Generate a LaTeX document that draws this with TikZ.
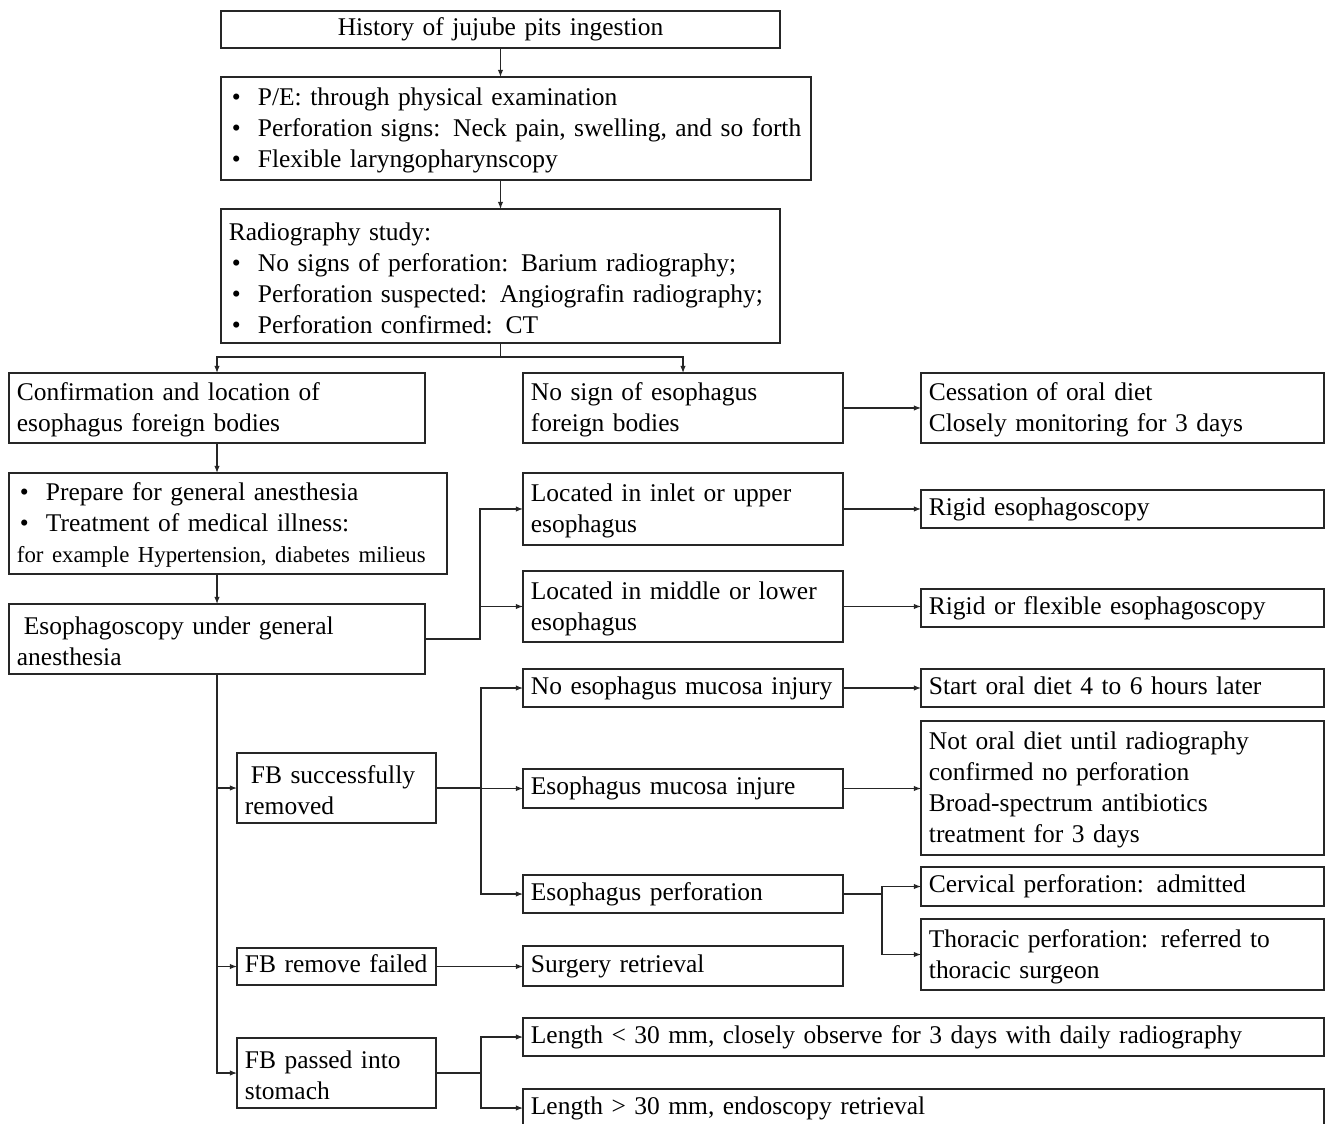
\documentclass[tikz,border=0pt]{standalone}
\usepackage{fontspec}
\setmainfont{Liberation Serif}
\usetikzlibrary{arrows.meta}
\newcommand{\bul}{\hspace{0.06cm}\makebox[0.52cm][l]{\textbullet}}

\begin{document}
\begin{tikzpicture}[x=0.02cm, y=-0.02cm,
    font=\fontsize{14.5pt}{17.6pt}\selectfont,
    box/.style 2 args={draw=black!85, line width=0.6pt, anchor=north west, outer sep=0pt,
        minimum width=#1*0.02cm, minimum height=#2*0.02cm,
        text width=#1*0.02cm-9pt, inner xsep=4.5pt, inner ysep=0pt, align=left,
        execute at begin node=\strut},
    arr/.style={-{Latex[length=4pt,width=3pt]}, draw=black!85, line width=0.6pt}]

    \useasboundingbox (0,0) rectangle (1325,1124);
    \clip (0,0) rectangle (1325,1124);

    % examination and imaging
    \node[box={559}{37}, align=center] (hist) at (221,11) {History of jujube pits ingestion};
    \node[box={590}{103}] (exam) at (221,77) {\bul P/E: through physical examination\\ \bul Perforation signs: Neck pain, swelling, and so forth\\ \bul Flexible laryngopharynscopy};
    \node[box={559}{134}] (radio) at (221,209) {Radiography study:\\ \bul No signs of perforation: Barium radiography;\\ \bul Perforation suspected: Angiografin radiography;\\ \bul Perforation confirmed: CT};

    \node[box={416}{70}] (confirm) at (9,373) {Confirmation and location of\\ esophagus foreign bodies};
    \node[box={320}{70}] (nosign) at (523,373) {No sign of esophagus\\ foreign bodies};
    \node[box={403}{70}] (cessation) at (921,373) {Cessation of oral diet\\ Closely monitoring for 3 days};

    % esophagoscopy
    \node[box={438}{101}] (prepare) at (9,473) {\bul Prepare for general anesthesia\\ \bul Treatment of medical illness:\\ \mbox{\fontsize{13pt}{17.6pt}\selectfont for example Hypertension, diabetes milieus}};
    \node[box={416}{70}] (escopy) at (9,604) {\hspace*{0.14cm}Esophagoscopy under general\\ anesthesia};
    \node[box={320}{72}] (inlet) at (523,473) {Located in inlet or upper\\ esophagus};
    \node[box={320}{71}] (middle) at (523,571) {Located in middle or lower\\ esophagus};
    \node[box={403}{38}] (rigid) at (921,490) {Rigid esophagoscopy};
    \node[box={403}{38}] (rigflex) at (921,589) {Rigid or flexible esophagoscopy};

    % outcome of removal
    \node[box={199}{70}] (fbok) at (237,753) {\hspace*{0.12cm}FB successfully\\ removed};
    \node[box={320}{38}] (nomucosa) at (523,669) {No esophagus mucosa injury};
    \node[box={320}{39}] (injure) at (523,769) {Esophagus mucosa injure};
    \node[box={320}{38}] (perf) at (523,875) {Esophagus perforation};
    \node[box={403}{38}] (startdiet) at (921,669) {Start oral diet 4 to 6 hours later};
    \node[box={403}{134}] (nodiet) at (921,721) {Not oral diet until radiography\\ confirmed no perforation\\ Broad-spectrum antibiotics\\ treatment for 3 days};
    \node[box={403}{39}] (cervical) at (921,867) {Cervical perforation: admitted};
    \node[box={403}{71}] (thoracic) at (921,919) {Thoracic perforation: referred to\\ thoracic surgeon};
    \node[box={199}{37}] (fbfail) at (237,948) {FB remove failed};
    \node[box={320}{40}] (surgery) at (523,946) {Surgery retrieval};
    \node[box={199}{70}] (fbstomach) at (237,1038) {FB passed into\\ stomach};
    \node[box={801}{38}] (lenless) at (523,1018) {Length < 30 mm, closely observe for 3 days with daily radiography};
    \node[box={801}{38}] (lenmore) at (523,1089) {Length > 30 mm, endoscopy retrieval};

    % connectors
    \draw[arr] (hist.south) -- (hist.south |- exam.north);
    \draw[arr] (hist.south |- exam.south) -- (radio.north);
    \draw[arr] (radio.south) -- ++(0,14) -| (confirm.north);
    \draw[arr] (radio.south) -- ++(0,14) -| (nosign.north);
    \draw[arr] (nosign) -- (cessation);
    \draw[arr] (confirm.south) -- (confirm.south |- prepare.north);
    \draw[arr] (escopy.north |- prepare.south) -- (escopy.north);
    \draw[arr] (escopy.east) -- ++(55,0) |- (inlet.west);
    \draw[arr] (escopy.east) -- ++(55,0) |- (middle.west);
    \draw[arr] (inlet) -- (rigid);
    \draw[arr] (middle) -- (middle -| rigflex.west);
    \draw[arr] (escopy.south) |- (fbok.west);
    \draw[arr] (escopy.south) |- (fbfail.west);
    \draw[arr] (escopy.south) |- (fbstomach.west);
    \draw[arr] (fbok.east) -- ++(45,0) |- (nomucosa.west);
    \draw[arr] (fbok.east) -- ++(45,0) |- (injure.west);
    \draw[arr] (fbok.east) -- ++(45,0) |- (perf.west);
    \draw[arr] (nomucosa) -- (startdiet);
    \draw[arr] (injure) -- (injure -| nodiet.west);
    \draw[arr] (perf.east) -- ++(39,0) |- (cervical.west);
    \draw[arr] (perf.east) -- ++(39,0) |- (thoracic.west);
    \draw[arr] (fbfail) -- (fbfail -| surgery.west);
    \draw[arr] (fbstomach.east) -- ++(45,0) |- (lenless.west);
    \draw[arr] (fbstomach.east) -- ++(45,0) |- (lenmore.west);
\end{tikzpicture}
\end{document}
